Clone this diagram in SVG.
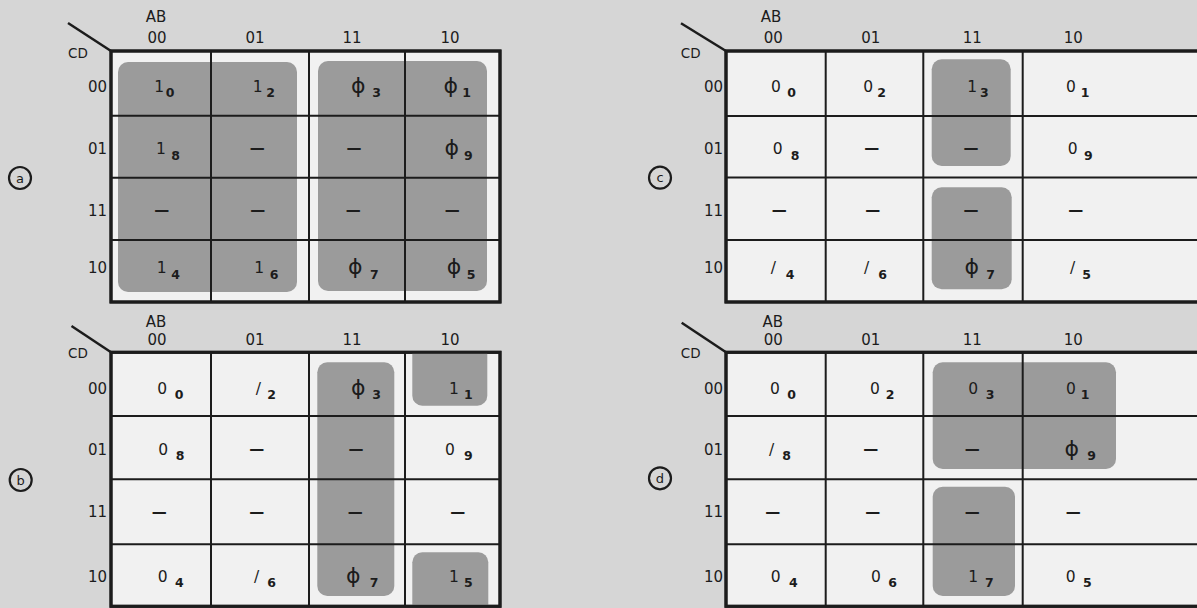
<svg xmlns="http://www.w3.org/2000/svg" width="1197" height="608" viewBox="0 0 1197 608">
<style>
text{font-family:"DejaVu Sans","Liberation Sans",sans-serif;fill:#1c1c1c}
.m{font-size:15.5px;text-anchor:middle}
.s{font-size:12.5px;font-weight:bold;text-anchor:middle}
.p{font-size:22px;text-anchor:middle}
.d{font-size:15px;font-weight:bold;text-anchor:middle}
.h{font-size:15px;text-anchor:middle}
.r{font-size:15px;text-anchor:end}
.cd{font-size:13.5px;text-anchor:middle}
.c{font-size:13px;text-anchor:middle}
.box{fill:#f1f1f1;stroke:#1c1c1c;stroke-width:3}
.grid{stroke:#1c1c1c;stroke-width:2;fill:none}
.shade{fill:#9b9b9b}
.diag{stroke:#1c1c1c;stroke-width:2.5}
.circ{fill:none;stroke:#1c1c1c;stroke-width:2.2}
</style>
<rect width="1197" height="608" fill="#d6d6d6"/>

<!-- Map a -->
<g id="map-a">
<line class="diag" x1="68" y1="23" x2="111" y2="51"/>
<rect class="box" x="111" y="51" width="389" height="251"/>
<rect class="shade" x="118" y="62" width="179" height="230" rx="10"/>
<rect class="shade" x="318" y="61" width="169" height="230" rx="10"/>
<path class="grid" d="M211 51V302M309 51V302M405 51V302M111 115.7H500M111 177.7H500M111 240H500"/>
<rect x="111" y="51" width="389" height="251" fill="none" stroke="#1c1c1c" stroke-width="3"/>
<text class="h" x="156" y="21.5">AB</text>
<text class="h" x="157" y="43">00</text><text class="h" x="255" y="43">01</text><text class="h" x="352" y="43">11</text><text class="h" x="450" y="43">10</text>
<text class="cd" x="78" y="58">CD</text>
<text class="r" x="107" y="91.5">00</text><text class="r" x="107" y="154">01</text><text class="r" x="107" y="215.5">11</text><text class="r" x="107" y="273">10</text>
<g id="label-a"><circle class="circ" cx="20" cy="178" r="11"/><text class="c" x="20" y="182.5">a</text></g>
<g id="a-cells">
<text class="m" x="159.3" y="91.5">1</text><text class="s" x="170" y="97">0</text>
<text class="m" x="257.7" y="91.5">1</text><text class="s" x="270.7" y="97">2</text>
<text class="p" x="358.3" y="92.5">ϕ</text><text class="s" x="376.7" y="97">3</text>
<text class="p" x="450.7" y="92.5">ϕ</text><text class="s" x="466.7" y="97">1</text>
<text class="m" x="161" y="154">1</text><text class="s" x="175.7" y="159.5">8</text>
<text class="d" x="257.3" y="153">—</text>
<text class="d" x="354" y="153">—</text>
<text class="p" x="451.7" y="155">ϕ</text><text class="s" x="468.3" y="159.5">9</text>
<text class="d" x="161.7" y="215">—</text><text class="d" x="257.7" y="215">—</text><text class="d" x="353.3" y="215">—</text><text class="d" x="452.3" y="215">—</text>
<text class="m" x="161.7" y="273">1</text><text class="s" x="175.7" y="279">4</text>
<text class="m" x="259.3" y="273">1</text><text class="s" x="274" y="279">6</text>
<text class="p" x="355.3" y="274">ϕ</text><text class="s" x="374.3" y="279">7</text>
<text class="p" x="454" y="274">ϕ</text><text class="s" x="471" y="279">5</text>
</g>
</g>

<!-- Map b -->
<g id="map-b">
<line class="diag" x1="71.5" y1="326" x2="111" y2="352.3"/>
<rect class="box" x="111" y="352.3" width="389" height="254"/>
<rect class="shade" x="317.3" y="362.3" width="77" height="233.7" rx="10"/>
<path class="shade" d="M412.3 352.3H487.3V395.7A10 10 0 0 1 477.3 405.7H422.3A10 10 0 0 1 412.3 395.7Z"/>
<path class="shade" d="M412.3 606.3V562.3A10 10 0 0 1 422.3 552.3H478.3A10 10 0 0 1 488.3 562.3V606.3Z"/>
<path class="grid" d="M211 352.3V606.3M309 352.3V606.3M405 352.3V606.3M111 416H500M111 479.3H500M111 544.3H500"/>
<rect x="111" y="352.3" width="389" height="254" fill="none" stroke="#1c1c1c" stroke-width="3"/>
<text class="h" x="156" y="327">AB</text>
<text class="h" x="157" y="344.5">00</text><text class="h" x="255" y="344.5">01</text><text class="h" x="352" y="344.5">11</text><text class="h" x="450" y="344.5">10</text>
<text class="cd" x="78" y="358.3">CD</text>
<text class="r" x="107" y="393.8">00</text><text class="r" x="107" y="454.5">01</text><text class="r" x="107" y="517">11</text><text class="r" x="107" y="582">10</text>
<g id="label-b"><circle class="circ" cx="20.7" cy="480" r="11"/><text class="c" x="20.7" y="484.5">b</text></g>
<g id="b-cells">
<text class="m" x="162.3" y="394">0</text><text class="s" x="179" y="398.5">0</text>
<text class="m" x="258.3" y="394">/</text><text class="s" x="271.7" y="398.5">2</text>
<text class="p" x="358.3" y="395">ϕ</text><text class="s" x="376.7" y="398.5">3</text>
<text class="m" x="454" y="394">1</text><text class="s" x="468.3" y="398.5">1</text>
<text class="m" x="163.3" y="454.5">0</text><text class="s" x="180" y="460">8</text>
<text class="d" x="256.7" y="453.5">—</text>
<text class="d" x="356" y="453.5">—</text>
<text class="m" x="450" y="454.5">0</text><text class="s" x="468.3" y="460">9</text>
<text class="d" x="159.3" y="516.7">—</text><text class="d" x="256.7" y="516.7">—</text><text class="d" x="355.3" y="516.7">—</text><text class="d" x="457.7" y="516.7">—</text>
<text class="m" x="162.7" y="582">0</text><text class="s" x="179.3" y="587">4</text>
<text class="m" x="256.7" y="582">/</text><text class="s" x="271.7" y="587">6</text>
<text class="p" x="353.3" y="583">ϕ</text><text class="s" x="374" y="587">7</text>
<text class="m" x="454" y="582">1</text><text class="s" x="468.3" y="587">5</text>
</g>
</g>

<!-- Map c -->
<g id="map-c">
<line class="diag" x1="681" y1="23.3" x2="726" y2="51"/>
<rect class="box" x="726" y="51" width="475" height="251"/>
<rect class="shade" x="931.7" y="59.3" width="79" height="106.7" rx="10"/>
<rect class="shade" x="931.7" y="187.3" width="80" height="102" rx="10"/>
<path class="grid" d="M825.7 51V302M923.3 51V302M1022.7 51V302M726 116H1199M726 177.5H1199M726 240H1199"/>
<rect x="726" y="51" width="475" height="251" fill="none" stroke="#1c1c1c" stroke-width="3"/>
<text class="h" x="771" y="21.5">AB</text>
<text class="h" x="773.3" y="43">00</text><text class="h" x="870.7" y="43">01</text><text class="h" x="972.3" y="43">11</text><text class="h" x="1073.3" y="43">10</text>
<text class="cd" x="690.7" y="58.3">CD</text>
<text class="r" x="723" y="91.5">00</text><text class="r" x="723" y="154">01</text><text class="r" x="723" y="215.5">11</text><text class="r" x="723" y="273">10</text>
<g id="label-c"><circle class="circ" cx="660" cy="177.7" r="11"/><text class="c" x="660" y="182.2">c</text></g>
<g id="c-cells">
<text class="m" x="776" y="91.5">0</text><text class="s" x="791.7" y="97">0</text>
<text class="m" x="868.3" y="91.5">0</text><text class="s" x="881.7" y="97">2</text>
<text class="m" x="972.3" y="91.5">1</text><text class="s" x="984.3" y="97">3</text>
<text class="m" x="1071" y="91.5">0</text><text class="s" x="1085" y="97">1</text>
<text class="m" x="777.7" y="154">0</text><text class="s" x="795" y="159.5">8</text>
<text class="d" x="871.7" y="153">—</text>
<text class="d" x="971" y="153">—</text>
<text class="m" x="1072.7" y="154">0</text><text class="s" x="1088.3" y="159.5">9</text>
<text class="d" x="779.3" y="215">—</text><text class="d" x="872.7" y="215">—</text><text class="d" x="971" y="215">—</text><text class="d" x="1075.7" y="215">—</text>
<text class="m" x="773.3" y="273">/</text><text class="s" x="790" y="279">4</text>
<text class="m" x="866.7" y="273">/</text><text class="s" x="882.7" y="279">6</text>
<text class="p" x="971.7" y="274">ϕ</text><text class="s" x="990.7" y="279">7</text>
<text class="m" x="1072.7" y="273">/</text><text class="s" x="1086.7" y="279">5</text>
</g>
</g>

<!-- Map d -->
<g id="map-d">
<line class="diag" x1="681.7" y1="322.7" x2="726" y2="352.3"/>
<rect class="box" x="726" y="352.3" width="475" height="254"/>
<rect class="shade" x="932.7" y="362.3" width="183.3" height="106.7" rx="10"/>
<rect class="shade" x="932.7" y="486.7" width="82.3" height="109.3" rx="10"/>
<path class="grid" d="M825.7 352.3V606.3M923.3 352.3V606.3M1022.7 352.3V606.3M726 416H1199M726 479.3H1199M726 544.3H1199"/>
<rect x="726" y="352.3" width="475" height="254" fill="none" stroke="#1c1c1c" stroke-width="3"/>
<text class="h" x="772.7" y="327">AB</text>
<text class="h" x="773.3" y="344.5">00</text><text class="h" x="870.7" y="344.5">01</text><text class="h" x="972.3" y="344.5">11</text><text class="h" x="1073.3" y="344.5">10</text>
<text class="cd" x="690.7" y="358.3">CD</text>
<text class="r" x="723" y="393.8">00</text><text class="r" x="723" y="454.5">01</text><text class="r" x="723" y="517">11</text><text class="r" x="723" y="582">10</text>
<g id="label-d"><circle class="circ" cx="660" cy="478.3" r="11"/><text class="c" x="660" y="482.8">d</text></g>
<g id="d-cells">
<text class="m" x="775" y="394">0</text><text class="s" x="791.7" y="398.5">0</text>
<text class="m" x="875" y="394">0</text><text class="s" x="890" y="398.5">2</text>
<text class="m" x="973.3" y="394">0</text><text class="s" x="990" y="398.5">3</text>
<text class="m" x="1071" y="394">0</text><text class="s" x="1085" y="398.5">1</text>
<text class="m" x="771.7" y="454.5">/</text><text class="s" x="786.7" y="460">8</text>
<text class="d" x="870.7" y="453.5">—</text>
<text class="d" x="972.3" y="453.5">—</text>
<text class="p" x="1071.7" y="455.5">ϕ</text><text class="s" x="1091.7" y="460">9</text>
<text class="d" x="772.7" y="516.7">—</text><text class="d" x="872.7" y="516.7">—</text><text class="d" x="972.3" y="516.7">—</text><text class="d" x="1073.3" y="516.7">—</text>
<text class="m" x="775.7" y="582">0</text><text class="s" x="793.3" y="587">4</text>
<text class="m" x="876" y="582">0</text><text class="s" x="892.7" y="587">6</text>
<text class="m" x="973.3" y="582">1</text><text class="s" x="989.3" y="587">7</text>
<text class="m" x="1070.7" y="582">0</text><text class="s" x="1087.3" y="587">5</text>
</g>
</g>
</svg>
